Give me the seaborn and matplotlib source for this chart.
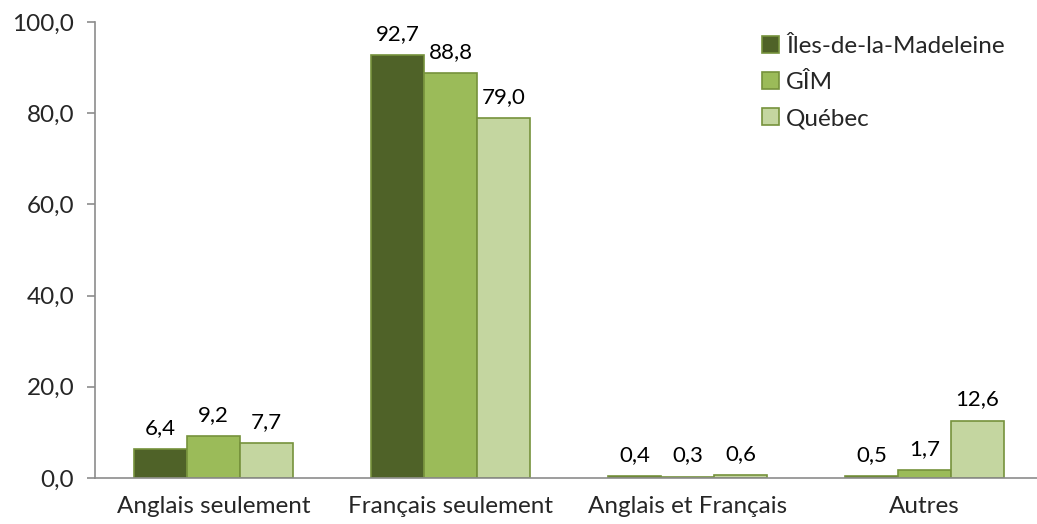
import matplotlib
matplotlib.use("Agg")
import matplotlib.pyplot as plt
import matplotlib.ticker as mticker
import seaborn as sns
import pandas as pd

categories = ["Anglais seulement", "Français seulement", "Anglais et Français", "Autres"]
regions = ["Îles-de-la-Madeleine", "GÎM", "Québec"]
iles = [6.4, 92.7, 0.4, 0.5]
gim = [9.2, 88.8, 0.3, 1.7]
quebec = [7.7, 79.0, 0.6, 12.6]

colors = ["#4F6228", "#9BBB59", "#C4D6A0"]

df = pd.DataFrame({
    "Catégorie": categories * 3,
    "Région": [r for r in regions for _ in categories],
    "Valeur": iles + gim + quebec,
})

sns.set_style("white")
plt.rcParams["font.family"] = ["Lato", "DejaVu Sans"]

fig = plt.figure(figsize=(10.37, 5.24), dpi=100)
ax = fig.add_axes([95 / 1037, 46 / 524, 948 / 1037, 456 / 524])

sns.barplot(data=df, x="Catégorie", y="Valeur", hue="Région", palette=colors,
            saturation=1, width=0.67, edgecolor="#76923C", linewidth=1.2, ax=ax, legend=True)

# étiquettes de données
for cont in ax.containers:
    ax.bar_label(cont, labels=[f"{v:.1f}".replace(".", ",") for v in cont.datavalues],
                 padding=8, fontsize=16, color="black")

ax.set_xlim(-0.5, 3.5)
ax.set_ylim(0, 100)
ax.yaxis.set_major_locator(mticker.MultipleLocator(20))
ax.yaxis.set_major_formatter(mticker.FuncFormatter(lambda v, p: f"{v:.1f}".replace(".", ",")))

# ticks entre les groupes, libellés au centre
ax.set_xticks([-0.5, 0.5, 1.5, 2.5, 3.5])
ax.set_xticklabels([])
ax.set_xticks(range(len(categories)), minor=True)
ax.set_xticklabels(categories, minor=True)
ax.tick_params(axis="x", which="major", length=6, width=1.2, color="#8C8C8C")
ax.tick_params(axis="x", which="minor", length=0, labelsize=17.5, pad=13)
ax.tick_params(axis="y", length=6, width=1.2, color="#8C8C8C", labelsize=17.5, pad=9, left=True)

ax.set_xlabel("")
ax.set_ylabel("")
for s in ["top", "right"]:
    ax.spines[s].set_visible(False)
for s in ["left", "bottom"]:
    ax.spines[s].set_color("#8C8C8C")
    ax.spines[s].set_linewidth(1.2)

leg = ax.legend(loc="upper left", bbox_to_anchor=(0.693, 0.99), frameon=False,
                fontsize=17.5, handlelength=0.7, handleheight=0.7, handletextpad=0.3,
                labelspacing=0.62, borderaxespad=0)

fig.savefig("out.png", dpi=100)
